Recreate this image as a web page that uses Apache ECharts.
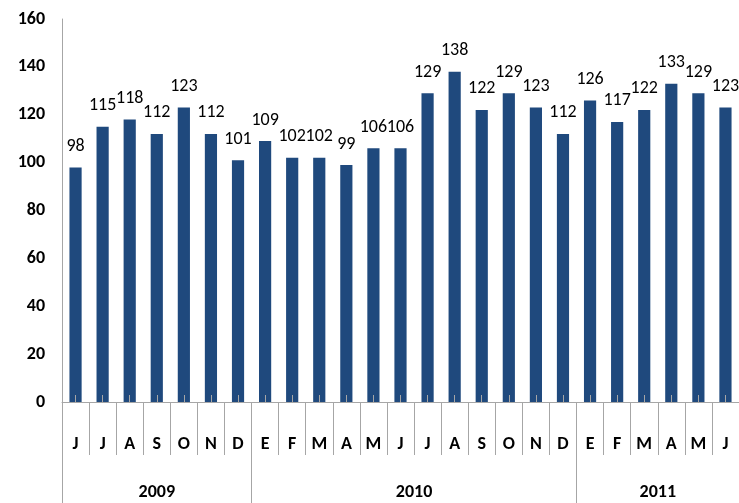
<!DOCTYPE html>
<html><head><meta charset="utf-8">
<script src="https://cdn.jsdelivr.net/npm/echarts@6/dist/echarts.min.js"></script>
<style>html,body{margin:0;padding:0;background:#fff}#c{width:739px;height:503px}</style>
</head><body><div id="c"></div>
<script>
const months = ['J','J','A','S','O','N','D','E','F','M','A','M','J','J','A','S','O','N','D','E','F','M','A','M','J'];
const values = [98,115,118,112,123,112,101,109,102,102,99,106,106,129,138,122,129,123,112,126,117,122,133,129,123];
const years = ['2009','2010','2011'];
const yearSizes = [7,12,6];
const yTicks = [0,20,40,60,80,100,120,140,160];

const FONT = 'Carlito,"Open Sans",sans-serif';
const boundaries = [0];
const centers = [];
yearSizes.forEach((n,i)=>{const s=boundaries[boundaries.length-1];centers.push(s+n/2);boundaries.push(s+n);});

const chart = echarts.init(document.getElementById('c'));
chart.setOption({
  animation:false,
  grid:{left:62,right:0,top:19,bottom:101,containLabel:false},
  xAxis:[
    {type:'category',data:months,position:'bottom',
     axisLine:{lineStyle:{color:'#a6a6a6',width:1}},
     axisTick:{show:true,length:53,interval:0,lineStyle:{color:'#a6a6a6'}},
     axisLabel:{interval:0,margin:33,fontFamily:FONT,fontWeight:'bold',fontSize:18,color:'#000'}},
    {type:'category',data:months,position:'bottom',z:5,
     axisLine:{show:false},
     axisTick:{show:true,inside:true,alignWithLabel:true,length:7,interval:0,lineStyle:{color:'#a6a6a6'}},
     axisLabel:{show:false}},
    {type:'value',min:0,max:months.length,position:'bottom',
     axisLine:{show:false},splitLine:{show:false},
     axisTick:{show:true,length:110,customValues:boundaries,lineStyle:{color:'#a6a6a6'}},
     axisLabel:{show:true,customValues:centers,margin:81,fontFamily:FONT,fontWeight:'bold',fontSize:18,color:'#000',
       formatter:(v)=>years[centers.indexOf(v)]}}
  ],
  yAxis:{type:'value',min:yTicks[0],max:yTicks[yTicks.length-1],interval:20,
    axisLine:{show:true,lineStyle:{color:'#a6a6a6'}},axisTick:{show:false},splitLine:{show:false},
    axisLabel:{margin:17,fontFamily:FONT,fontWeight:'bold',fontSize:18,color:'#000'}},
  series:[{type:'bar',data:values,barWidth:'45%',xAxisIndex:0,
    itemStyle:{color:'#1f497d'},
    label:{show:true,position:'top',distance:12,fontFamily:FONT,fontSize:18,color:'#000'}}]
});
</script></body></html>
